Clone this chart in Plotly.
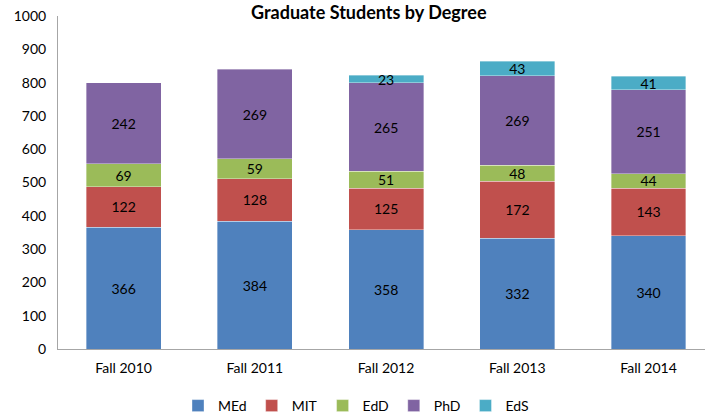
import plotly.graph_objects as go

categories = ["Fall 2010", "Fall 2011", "Fall 2012", "Fall 2013", "Fall 2014"]
med = [366, 384, 358, 332, 340]
mit = [122, 128, 125, 172, 143]
edd = [69, 59, 51, 48, 44]
phd = [242, 269, 265, 269, 251]
eds = [None, None, 23, 43, 41]

series = [
    ("MEd", med, "#4F81BD"),
    ("MIT", mit, "#C0504D"),
    ("EdD", edd, "#9BBB59"),
    ("PhD", phd, "#8064A2"),
    ("EdS", eds, "#4BACC6"),
]

FONT = "Lato, Carlito, Calibri, sans-serif"

fig = go.Figure()
for name, vals, color in series:
    fig.add_trace(go.Bar(
        name=name, x=categories, y=vals,
        marker=dict(color=color, line=dict(color="rgba(255,255,255,0.6)", width=0.6)),
        text=[("" if v is None else str(v)) for v in vals],
        textposition="inside", insidetextanchor="middle", textangle=0,
        textfont=dict(color="black", size=14, family=FONT),
        hoverinfo="name+y",
    ))

fig.update_layout(
    barmode="stack",
    bargap=0.43,
    width=705, height=418,
    margin=dict(l=58, r=0, t=16, b=69, autoexpand=False),
    paper_bgcolor="white", plot_bgcolor="white",
    font=dict(family=FONT, size=14, color="black"),
    uniformtext=dict(minsize=14, mode="show"),
    showlegend=True,
    legend=dict(orientation="h", xref="container", x=0.505, xanchor="center",
                yref="container", y=12 / 418, yanchor="middle",
                font=dict(size=14), traceorder="normal", itemwidth=30),
    annotations=[dict(text="<b>Graduate Students by Degree</b>", xref="paper", yref="paper",
                      x=0.48, y=1.0, yshift=17, yanchor="top", showarrow=False,
                      font=dict(size=18, family=FONT))],
)
fig.update_yaxes(range=[0, 1000], dtick=100, showgrid=False, showline=True,
                 linecolor="#A6A6A6", linewidth=1, ticks="", ticklabelstandoff=8,
                 tickfont=dict(size=14), zeroline=False, automargin=False)
fig.update_xaxes(range=[-0.5, 4.43], showline=True, linecolor="#A6A6A6", linewidth=1,
                 ticks="", tickfont=dict(size=14), ticklabelstandoff=6, automargin=False)

fig.write_html("out.html", config={"displayModeBar": False},
               post_script="document.body.style.margin='0';")
